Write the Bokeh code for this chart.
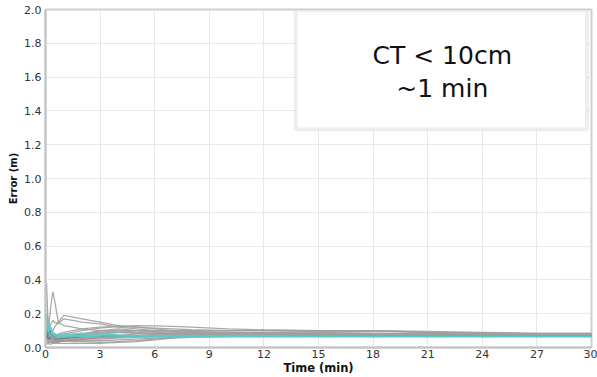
from bokeh.plotting import figure
from bokeh.models import BoxAnnotation, Label, FixedTicker, NumeralTickFormatter
from bokeh.embed import file_html
from bokeh.resources import INLINE

# ---- data ----
time_min = [0.06, 0.12, 0.2, 0.3, 0.4, 0.5, 0.7, 1, 1.5, 2, 3, 4, 5, 6, 7, 8, 10, 12, 15, 18, 21, 24, 27, 30]

gray_series = [
    [0.38, 0.2, 0.1, 0.06, 0.05, 0.04, 0.04, 0.04, 0.035, 0.035, 0.03, 0.035, 0.04, 0.05, 0.06, 0.07, 0.075, 0.075, 0.075, 0.075, 0.075, 0.075, 0.075, 0.075],
    [0.1, 0.08, 0.15, 0.25, 0.33, 0.28, 0.15, 0.13, 0.12, 0.11, 0.1, 0.09, 0.085, 0.08, 0.08, 0.08, 0.08, 0.08, 0.08, 0.08, 0.075, 0.075, 0.075, 0.075],
    [0.15, 0.12, 0.1, 0.09, 0.1, 0.12, 0.15, 0.19, 0.18, 0.17, 0.15, 0.13, 0.12, 0.11, 0.1, 0.095, 0.09, 0.085, 0.08, 0.08, 0.08, 0.075, 0.075, 0.075],
    [0.12, 0.1, 0.12, 0.14, 0.16, 0.15, 0.14, 0.17, 0.16, 0.15, 0.14, 0.12, 0.11, 0.1, 0.095, 0.09, 0.09, 0.085, 0.08, 0.08, 0.08, 0.075, 0.075, 0.075],
    [0.08, 0.06, 0.05, 0.05, 0.06, 0.07, 0.07, 0.08, 0.09, 0.1, 0.115, 0.125, 0.13, 0.128, 0.125, 0.12, 0.11, 0.105, 0.1, 0.1, 0.09, 0.085, 0.08, 0.08],
    [0.05, 0.04, 0.04, 0.05, 0.06, 0.07, 0.08, 0.09, 0.1, 0.11, 0.12, 0.125, 0.12, 0.115, 0.11, 0.105, 0.1, 0.1, 0.1, 0.1, 0.09, 0.085, 0.08, 0.08],
    [0.1, 0.06, 0.04, 0.03, 0.03, 0.03, 0.03, 0.04, 0.05, 0.07, 0.1, 0.11, 0.1, 0.09, 0.085, 0.085, 0.085, 0.085, 0.085, 0.08, 0.08, 0.08, 0.075, 0.075],
    [0.03, 0.02, 0.03, 0.04, 0.04, 0.04, 0.04, 0.05, 0.06, 0.08, 0.1, 0.1, 0.09, 0.085, 0.08, 0.08, 0.08, 0.08, 0.08, 0.08, 0.08, 0.075, 0.075, 0.075],
    [0.06, 0.04, 0.03, 0.03, 0.025, 0.025, 0.025, 0.025, 0.025, 0.025, 0.025, 0.03, 0.035, 0.045, 0.055, 0.06, 0.065, 0.07, 0.07, 0.07, 0.07, 0.07, 0.07, 0.07],
    [0.15, 0.1, 0.06, 0.05, 0.05, 0.045, 0.04, 0.04, 0.04, 0.04, 0.04, 0.045, 0.05, 0.055, 0.06, 0.065, 0.07, 0.07, 0.07, 0.07, 0.068, 0.068, 0.068, 0.068],
    [0.2, 0.15, 0.12, 0.1, 0.09, 0.08, 0.07, 0.06, 0.055, 0.05, 0.05, 0.055, 0.06, 0.065, 0.07, 0.07, 0.072, 0.072, 0.072, 0.072, 0.07, 0.07, 0.07, 0.07],
    [0.07, 0.05, 0.06, 0.08, 0.07, 0.06, 0.06, 0.06, 0.07, 0.08, 0.09, 0.1, 0.1, 0.095, 0.09, 0.09, 0.09, 0.09, 0.095, 0.095, 0.09, 0.085, 0.08, 0.08],
    [0.12, 0.08, 0.05, 0.04, 0.035, 0.035, 0.035, 0.04, 0.045, 0.05, 0.06, 0.07, 0.08, 0.08, 0.08, 0.078, 0.078, 0.078, 0.078, 0.078, 0.076, 0.076, 0.076, 0.076],
    [0.09, 0.07, 0.08, 0.1, 0.09, 0.08, 0.07, 0.07, 0.075, 0.08, 0.085, 0.09, 0.085, 0.08, 0.08, 0.08, 0.08, 0.085, 0.09, 0.085, 0.08, 0.08, 0.078, 0.078],
    [0.04, 0.03, 0.02, 0.02, 0.025, 0.03, 0.035, 0.04, 0.045, 0.05, 0.06, 0.065, 0.07, 0.07, 0.07, 0.07, 0.07, 0.068, 0.068, 0.068, 0.068, 0.068, 0.068, 0.068],
    [0.18, 0.12, 0.08, 0.07, 0.06, 0.055, 0.05, 0.05, 0.06, 0.07, 0.08, 0.09, 0.1, 0.1, 0.1, 0.1, 0.1, 0.1, 0.1, 0.1, 0.095, 0.09, 0.085, 0.085],
]

dark_series = [
    [0.09, 0.06, 0.05, 0.06, 0.07, 0.065, 0.06, 0.06, 0.062, 0.065, 0.068, 0.07, 0.07, 0.07, 0.07, 0.07, 0.07, 0.07, 0.07, 0.07, 0.07, 0.07, 0.07, 0.07],
    [0.05, 0.07, 0.1, 0.08, 0.06, 0.05, 0.05, 0.055, 0.06, 0.062, 0.065, 0.066, 0.066, 0.066, 0.066, 0.066, 0.066, 0.066, 0.066, 0.066, 0.066, 0.066, 0.066, 0.066],
]

reddish_series = [
    [0.12, 0.09, 0.06, 0.05, 0.04, 0.04, 0.035, 0.04, 0.045, 0.05, 0.055, 0.06, 0.065, 0.068, 0.07, 0.07, 0.07, 0.07, 0.07, 0.07, 0.07, 0.07, 0.07, 0.07],
]

cyan_series = [
    [0.2, 0.15, 0.1, 0.12, 0.08, 0.07, 0.065, 0.07, 0.075, 0.075, 0.07, 0.068, 0.066, 0.066, 0.066, 0.066, 0.066, 0.065, 0.065, 0.065, 0.065, 0.065, 0.065, 0.065],
    [0.15, 0.12, 0.14, 0.1, 0.09, 0.08, 0.075, 0.075, 0.08, 0.085, 0.08, 0.075, 0.07, 0.07, 0.07, 0.07, 0.07, 0.07, 0.068, 0.068, 0.068, 0.068, 0.068, 0.068],
    [0.1, 0.13, 0.08, 0.07, 0.06, 0.06, 0.06, 0.062, 0.065, 0.065, 0.062, 0.06, 0.06, 0.062, 0.064, 0.064, 0.064, 0.064, 0.064, 0.064, 0.064, 0.064, 0.064, 0.064],
]

x_ticks = [0, 3, 6, 9, 12, 15, 18, 21, 24, 27, 30]
y_ticks = [0.0, 0.2, 0.4, 0.6, 0.8, 1.0, 1.2, 1.4, 1.6, 1.8, 2.0]
annotation_lines = ["CT < 10cm", "~1 min"]

# ---- figure ----
p = figure(width=597, height=377, x_range=(0, 30), y_range=(0, 2.0),
           output_backend="svg", toolbar_location=None,
           min_border_left=45, min_border_right=6, min_border_top=9, min_border_bottom=0)
p.background_fill_color = "white"
p.border_fill_color = "white"
p.outline_line_color = "#cfcfcf"
p.outline_line_width = 2

p.xaxis.ticker = FixedTicker(ticks=x_ticks)
p.yaxis.ticker = FixedTicker(ticks=y_ticks)
p.yaxis.formatter = NumeralTickFormatter(format="0.0")

for ax in (p.xaxis[0], p.yaxis[0]):
    ax.axis_line_color = "#c4c4c4"
    ax.axis_line_width = 2
    ax.major_tick_line_color = None
    ax.minor_tick_line_color = None
    ax.major_tick_out = 0
    ax.major_tick_in = 0
    ax.major_label_text_font = "DejaVu Sans"
    ax.major_label_text_font_size = "11px"
    ax.major_label_text_color = "#333333"
    ax.axis_label_text_font = "DejaVu Sans"
    ax.axis_label_text_font_style = "bold"
    ax.axis_label_text_color = "#111111"

p.xaxis.axis_label = "Time (min)"
p.xaxis.axis_label_text_font_size = "11.5px"
p.xaxis.major_label_standoff = 2
p.xaxis.axis_label_standoff = 0
p.yaxis.axis_label = "Error (m)"
p.yaxis.axis_label_text_font_size = "10px"
p.yaxis.major_label_standoff = 4
p.yaxis.axis_label_standoff = 2

p.xgrid.grid_line_color = "#e8e8e8"
p.ygrid.grid_line_color = "#e8e8e8"

for s in gray_series:
    p.line(time_min, s, line_color="#a0a0a0", line_width=1.3, line_alpha=0.9)
for s in reddish_series:
    p.line(time_min, s, line_color="#b08585", line_width=1.0, line_alpha=0.8)
for s in dark_series:
    p.line(time_min, s, line_color="#707878", line_width=1.4, line_alpha=0.9)
for s in cyan_series:
    p.line(time_min, s, line_color="#5ccaca", line_width=1.4, line_alpha=0.95)

box = BoxAnnotation(left=13.75, right=29.75, bottom=1.29, top=1.995,
                    fill_color="white", fill_alpha=1.0,
                    line_color="#c8c8c8", line_width=4)
p.add_layout(box)

p.add_layout(Label(x=21.8, y=1.73, text=annotation_lines[0], text_align="center",
                   text_baseline="middle", text_font="DejaVu Sans",
                   text_font_size="25px", text_color="#111111"))
p.add_layout(Label(x=21.8, y=1.535, text=annotation_lines[1], text_align="center",
                   text_baseline="middle", text_font="DejaVu Sans",
                   text_font_size="25px", text_color="#111111"))

open("out.html", "w").write(file_html(p, INLINE))
